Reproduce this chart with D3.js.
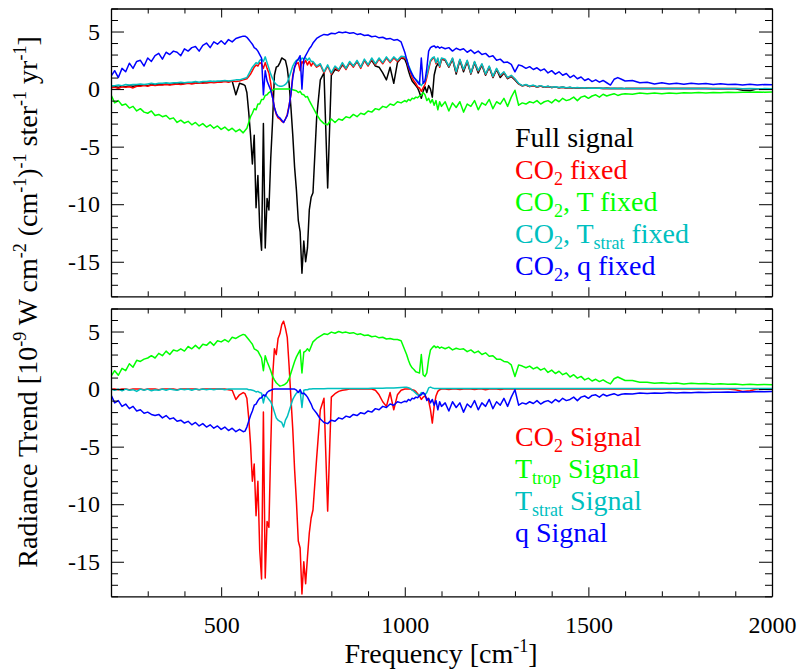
<!DOCTYPE html>
<html>
<head>
<meta charset="utf-8">
<script src="https://cdn.jsdelivr.net/npm/d3@7"></script>
<style>
  @font-face { font-family: "ChartSerif"; src: local("Liberation Serif"), local("LiberationSerif"), local("LiberationSerif-Regular"); }
  html, body { margin: 0; padding: 0; background: #fff; }
  svg { display: block; }
  #chart text, #chart tspan { font-family: "Liberation Serif" !important; }
</style>
</head>
<body>
<svg id="chart" width="805" height="671"></svg>
<script>
// ---------------- DATA ----------------
const freq = [
  200,210,220,230,240,250,260,270,280,290,300,310,320,330,340,350,360,370,380,390,400,410,420,430,440,450,460,470,480,490,500,510,520,530,540,550,560,
  565,570,575,580,585,590,595,600,605,610,615,620,625,630,635,640,645,650,655,660,665,670,675,680,685,690,695,700,705,710,715,720,725,730,735,740,745,
  750,760,770,780,790,800,810,820,830,840,850,860,870,880,890,900,910,920,930,940,950,960,970,980,990,1000,
  1005,1010,1015,1020,1025,1030,1035,1040,1045,1050,1055,1060,1065,1070,1075,1080,1085,1090,1095,1100,
  1110,1120,1130,1140,1150,1160,1170,1180,1190,1200,1210,1220,1230,1240,1250,1260,1270,1280,1290,1300,
  1310,1320,1330,1340,1350,1360,1370,1380,1390,1400,1410,1420,1430,1440,1450,1460,1470,1480,1490,1500,
  1510,1520,1530,1540,1550,1560,1570,1580,1590,1600,
  1620,1640,1660,1680,1700,1720,1740,1760,1780,1800,1820,1840,1860,1880,1900,1920,1940,1960,1980,2000
];

// Top panel
const fullSignal = [
  0.15,0.2,0.15,0.25,0.2,0.3,0.25,0.3,0.3,0.35, 0.3,0.4,0.35,0.4,0.4,0.45,0.4,0.45,0.5,0.45, 0.5,0.5,0.55,0.5,0.55,0.6,0.55,0.6,0.65,0.6, 0.65,0.7,0.65,0.7,-0.5,0.5,0.4,
  0.3,-0.3,-2.0,-4.0,-6.5,-4.0,-10.3,-7.5,-12.0,-14.0, -3.0,-13.8,-9.5,-10.5,-6.0,-2.8,1.2,1.9,2.0,2.3, 2.7,2.6,2.5,1.8,0.5,-1.6,-4.0,-6.8,-8.8,-11.4, -12.4,-16.0,-13.2,-15.0,-13.8,-10.5,-9.4,
  -9.0,-2.5,0.8,1.4,-8.6,1.2,1.7,1.6,2.1,1.8, 2.3,2.0,2.4,1.9,2.5,2.1,2.5,2.0,1.9,1.4, 0.8,1.9,0.5,2.3,2.7,2.6,
  2.2,1.6,1.1,0.7,0.5,0.3,0.1,-0.3,-0.8,-0.2, 0.2,-0.3,0.3,0.0,-0.7,1.2,1.9,2.2,2.0,2.6,
  2.5,1.9,2.6,1.3,2.5,1.5,2.4,1.3,2.3,1.4, 2.1,1.2,1.9,1.0,1.7,1.0,1.4,0.9,1.1,0.8,
  0.45,0.28,0.35,0.22,0.3,0.18,0.26,0.16,0.22,0.13, 0.17,0.11,0.15,0.1,0.13,0.08,0.11,0.08,0.1,0.07,
  0.08,0.07,0.07,0.06,0.07,0.05,0.06,0.05,0.06,0.04,
  0.04,0.04,0.04,0.04,0.04,0.04,0.04,0.04,0.04,0.04, 0.04,0.03,0.03,0.03,0.03,-0.1,-0.15,0.03,0.03,0.03
];
const co2Fixed = [
  0.1,0.15,0.05,0.2,0.15,0.2,0.1,0.25,0.25,0.3, 0.25,0.35,0.3,0.35,0.35,0.4,0.35,0.4,0.45,0.4, 0.45,0.5,0.45,0.5,0.55,0.5,0.55,0.6,0.55,0.6, 0.6,0.65,0.6,0.7,0.65,0.7,0.8,
  0.85,0.9,1.1,1.3,1.6,1.9,2.1,2.0,2.3,2.2, 1.8,2.3,1.8,1.4,0.5,-0.7,-1.6,-2.2,-2.5,-2.6, -2.8,-2.9,-2.6,-2.2,-1.4,-0.5,1.2,1.9,2.2,2.3, 1.6,2.4,2.2,2.5,2.1,2.4,2.0,
  2.3,1.9,2.1,1.4,2.0,1.3,1.9,1.6,2.2,1.7, 2.3,1.9,2.4,1.8,2.5,2.0,2.6,2.1,2.6,2.2, 2.7,2.3,2.7,2.4,2.75,2.7,
  2.5,1.9,1.5,1.0,0.7,0.5,0.2,0.1,-0.2,0.1, 0.4,1.0,1.7,2.4,2.6,2.75,2.2,2.6,1.9,2.6,
  2.55,1.95,2.65,1.45,2.55,1.65,2.45,1.35,2.35,1.55, 2.15,1.25,1.95,1.05,1.75,1.15,1.45,0.95,1.15,0.85,
  0.45,0.28,0.35,0.22,0.3,0.18,0.26,0.16,0.22,0.13, 0.17,0.11,0.15,0.1,0.13,0.08,0.11,0.08,0.1,0.07,
  0.08,0.07,0.07,0.06,0.07,0.05,0.06,0.05,0.06,0.04,
  0.04,0.04,0.04,0.04,0.04,0.04,0.04,0.04,0.04,0.04, 0.04,0.04,0.04,0.04,0.04,0.03,0.03,0.03,0.03,0.03
];
const co2TFixed = [
  -0.5,-1.2,-1.0,-1.4,-1.3,-1.65,-1.5,-1.9,-1.7,-2.0, -2.1,-1.9,-2.3,-2.2,-2.4,-2.3,-2.6,-2.5,-2.9,-2.7, -2.95,-2.8,-3.1,-2.9,-3.2,-3.0,-3.3,-3.1,-3.4,-3.2, -3.5,-3.3,-3.6,-3.4,-3.7,-3.5,-3.8,
  -3.6,-3.4,-2.9,-2.4,-2.1,-1.7,-1.8,-1.3,-1.3,-0.9, -0.9,-0.55,-0.5,-0.3,-0.2,-0.1,0,0,0,0, 0,0,0,0,0,0,-0.05,-0.1,-0.15,-0.3, -0.2,-0.45,-0.5,-0.7,-0.65,-1.0,-1.3,
  -1.6,-2.2,-2.7,-3.0,-3.1,-2.6,-2.9,-2.6,-2.7,-2.4, -2.5,-2.2,-2.4,-2.1,-2.2,-1.9,-2.0,-1.7,-1.8,-1.5, -1.6,-1.3,-1.4,-1.1,-1.2,-1.0,
  -1.1,-0.9,-1.0,-0.8,-0.85,-0.7,-0.75,-0.6,-0.55,-0.3, -0.5,-1.0,-0.8,-1.2,-0.9,-1.4,-1.0,-1.8,-1.1,-1.5,
  -1.1,-1.9,-1.2,-1.6,-1.1,-2.0,-1.3,-1.5,-1.0,-1.8, -1.2,-1.4,-0.9,-1.7,-1.1,-1.3,-0.8,-1.5,-0.7,-0.1,
  -1.4,-1.2,-1.3,-1.1,-1.2,-1.0,-1.3,-1.1,-1.0,-1.2, -0.9,-1.1,-0.8,-1.0,-0.9,-0.7,-1.0,-0.7,-0.6,-0.8,
  -0.6,-0.5,-0.7,-0.45,-0.6,-0.5,-0.4,-0.55,-0.45,-0.4,
  -0.45,-0.35,-0.4,-0.35,-0.4,-0.33,-0.38,-0.32,-0.35,-0.3, -0.33,-0.3,-0.32,-0.28,-0.3,-0.27,-0.28,-0.25,-0.27,-0.25
];
const co2TstratFixed = [
  0.3,0.3,0.35,0.3,0.4,0.35,0.4,0.4,0.45,0.4, 0.45,0.5,0.45,0.5,0.5,0.55,0.5,0.55,0.55,0.6, 0.55,0.6,0.6,0.65,0.6,0.65,0.65,0.7,0.65,0.7, 0.7,0.75,0.7,0.75,0.8,0.8,0.9,
  0.95,1.0,1.3,1.6,1.9,2.1,2.3,2.2,2.5,2.6, 2.4,2.8,2.3,1.8,1.3,0.9,0.6,0.4,0.3,0.25, 0.25,0.3,0.4,0.6,1.0,1.5,2.0,2.3,2.5,2.6, 2.4,2.7,2.6,2.7,2.5,2.7,2.4,
  2.4,2.0,2.2,1.5,2.1,1.4,2.0,1.7,2.3,1.8, 2.4,2.0,2.5,1.9,2.6,2.1,2.7,2.2,2.7,2.3, 2.8,2.4,2.8,2.5,2.85,2.8,
  2.6,2.1,1.7,1.3,1.0,0.85,0.7,0.5,0.3,0.5, 0.7,1.2,1.9,2.5,2.7,2.8,2.3,2.7,2.0,2.7,
  2.6,2.0,2.7,1.5,2.6,1.7,2.5,1.4,2.4,1.6, 2.2,1.3,2.0,1.1,1.8,1.2,1.5,1.0,1.2,0.9,
  0.5,0.3,0.4,0.25,0.35,0.2,0.3,0.18,0.25,0.15, 0.2,0.13,0.18,0.12,0.15,0.1,0.13,0.1,0.12,0.08,
  0.1,0.08,0.09,0.07,0.08,0.06,0.08,0.06,0.07,0.05,
  0.06,0.05,0.06,0.05,0.05,0.05,0.04,0.05,0.04,0.04, 0.05,0.04,0.04,0.04,0.04,0.03,0.04,0.03,0.04,0.03
];
const co2QFixed = [
  1.1,1.6,1.0,1.8,1.5,2.25,1.8,2.4,2.5,2.0, 2.7,2.4,2.9,3.1,2.6,3.2,3.0,3.3,3.2,2.9, 3.5,3.3,3.6,3.7,3.3,3.8,4.0,3.6,4.1,3.9, 4.2,3.9,4.3,4.1,4.4,4.5,4.6,
  4.6,4.5,4.3,4.1,3.9,3.6,3.5,3.3,3.0,2.7, -0.5,1.6,0.7,0.3,-0.1,-0.75,-1.6,-2.1,-2.4,-2.5, -2.7,-2.9,-2.6,-2.3,-1.5,-0.4,1.0,1.9,2.4,2.6, 2.9,0.0,2.6,2.9,3.2,3.5,3.7,
  4.0,4.4,4.6,4.75,4.7,4.85,4.8,4.95,4.9,4.95, 4.85,4.9,4.75,4.8,4.65,4.7,4.55,4.6,4.45,4.5, 4.35,4.4,4.25,4.3,4.1,3.2,
  2.6,2.0,1.6,1.3,1.0,0.8,0.6,0.4,2.7,0.5, 0.7,1.8,3.3,3.6,3.7,3.75,3.6,3.7,3.55,3.65,
  3.5,3.6,3.3,3.55,3.4,3.5,3.2,3.4,3.1,3.3, 3.0,3.1,2.8,2.9,2.5,2.6,2.3,2.35,2.15,1.5,
  2.1,2.0,1.8,1.95,1.7,1.85,1.6,1.75,1.4,1.6, 1.3,1.5,1.2,1.35,1.0,1.2,0.9,1.05,0.75,0.9,
  0.65,0.8,0.6,0.75,0.55,0.35,0.85,1.0,0.85,0.7,
  0.75,0.55,0.6,0.45,0.55,0.45,0.5,0.42,0.5,0.45, 0.48,0.4,0.47,0.4,0.42,0.35,0.42,0.36,0.4,0.38
];

// Bottom panel
const co2Signal = [
  0,0,-0.05,0,0,-0.05,0,0,0,-0.05, 0,0,0,-0.05,0,0,0,0,-0.05,0, 0,0,0,0,-0.05,0,0,0,0,0, 0,0,-0.05,-0.1,-0.9,-0.5,-0.3,
  -0.4,-0.8,-2.5,-4.8,-8.0,-6.5,-11.0,-8.0,-14.0,-16.5, -2.0,-16.4,-11.5,-12.0,-5.0,1.0,3.5,3.0,4.4,4.8, 5.6,5.9,5.3,4.5,2.0,-0.8,-3.5,-7.0,-9.8,-13.2, -13.8,-17.8,-15.0,-16.9,-14.6,-12.5,-11.2,
  -10.5,-6.0,-1.8,-0.8,-10.6,-0.7,-0.4,-0.2,-0.1,-0.05, 0,0,0,0,0,0,0,-0.1,-0.5,-1.1, -1.5,-0.3,-1.8,-0.5,-0.1,0,
  0,0,0,-0.05,-0.1,-0.2,-0.4,-0.6,-0.9,-0.7, -0.6,-0.8,-1.0,-1.8,-2.95,-1.5,-0.6,-0.2,-0.05,0,
  0,-0.03,0,0,-0.03,0,0,0,-0.03,0, 0,-0.05,0,0,0,-0.03,0,0,0,0,
  0,0,0,0,0,0,0,0,0,0, 0,0,0,0,0,0,0,0,0,0,
  0,0,0,0,0,0,0,0,0,0,
  0,0,0,0,0,0,0,0,0,0, 0,0,0,0,-0.05,-0.2,-0.15,0,0,0
];
const ttropSignal = [
  1.1,1.6,1.2,1.8,1.6,2.2,1.9,2.5,2.4,2.6, 2.7,2.9,2.7,3.1,2.9,3.3,3.0,3.4,3.3,3.5, 3.3,3.7,3.5,3.8,3.5,3.9,3.8,4.1,3.8,4.2, 4.1,4.3,4.1,4.5,4.4,4.6,4.75,
  4.7,4.5,4.3,4.1,3.9,3.5,3.4,3.3,3.0,2.7, 1.6,2.9,2.4,2.0,1.6,1.1,0.8,0.55,0.4,0.26, 0.3,0.35,0.45,0.6,0.9,1.4,1.9,2.4,2.8,3.1, 3.4,1.4,3.2,3.3,3.5,3.3,3.7,
  4.1,4.4,4.6,4.8,4.75,4.95,4.85,5.0,4.9,4.95, 4.85,4.9,4.75,4.8,4.65,4.7,4.55,4.6,4.45,4.5, 4.35,4.4,4.3,4.3,4.2,3.4,
  3.0,2.5,2.1,1.85,1.7,1.5,1.45,1.4,3.0,1.25, 1.1,1.4,2.6,3.4,3.6,3.75,3.6,3.7,3.55,3.65,
  3.5,3.65,3.4,3.55,3.45,3.5,3.25,3.4,3.15,3.3, 3.0,3.15,2.85,2.9,2.6,2.6,2.4,2.35,2.1,1.1,
  2.1,2.0,1.85,2.0,1.75,1.9,1.65,1.8,1.45,1.65, 1.35,1.55,1.25,1.4,1.05,1.25,0.95,1.1,0.8,0.95,
  0.7,0.85,0.65,0.8,0.6,0.45,0.9,1.05,0.9,0.75,
  0.75,0.6,0.6,0.5,0.55,0.48,0.52,0.45,0.5,0.46, 0.48,0.42,0.47,0.42,0.44,0.38,0.43,0.38,0.4,0.37
];
const tstratSignal = [
  0,-0.1,0,-0.15,0,-0.1,-0.05,-0.2,0,-0.1, 0,-0.15,-0.05,-0.1,0,-0.1,0,-0.05,-0.1,0, -0.05,0,-0.1,0,-0.05,0,-0.05,0,-0.05,0, 0,-0.05,0,0,0,0,0,
  0,0,-0.05,-0.05,-0.1,-0.15,-0.25,-0.2,-0.3,-0.35, -1.2,-0.5,-0.7,-0.9,-1.1,-1.5,-2.0,-2.5,-2.7,-2.8, -2.9,-3.3,-2.7,-2.4,-1.9,-1.4,-0.9,-0.6,-0.35,-0.25, -0.15,-1.6,-0.1,-0.05,-0.05,0,0,
  0.02,0.03,0.03,0.03,0.04,0.04,0.04,0.04,0.05,0.05, 0.05,0.05,0.05,0.06,0.06,0.06,0.07,0.07,0.08,0.08, 0.09,0.1,0.1,0.12,0.14,0.15,
  0.15,0.12,0.05,-0.1,-0.2,-0.35,-0.5,-0.55,-0.3,-0.4, -0.5,-0.3,0.1,0.17,0.1,0.06,0.06,0.06,0.06,0.06,
  0.06,0.06,0.06,0.06,0.06,0.06,0.06,0.06,0.06,0.06, 0.06,0.06,0.06,0.06,0.06,0.06,0.06,0.06,0.06,0.06,
  0.06,0.06,0.06,0.06,0.06,0.06,0.06,0.06,0.06,0.06, 0.06,0.06,0.06,0.06,0.06,0.06,0.06,0.06,0.06,0.06,
  0.06,0.06,0.06,0.06,0.06,0.06,0.06,0.06,0.06,0.06,
  0.06,0.06,0.06,0.06,0.06,0.06,0.06,0.06,0.06,0.06, 0.06,0.06,0.06,0.06,0.06,0.06,0.06,0.06,0.06,0.06
];
const qSignal = [
  -0.5,-1.2,-1.0,-1.5,-1.3,-1.7,-1.5,-1.9,-1.8,-2.1, -2.0,-2.2,-2.3,-2.2,-2.5,-2.3,-2.6,-2.5,-2.8,-2.7, -2.95,-2.8,-3.1,-2.9,-3.2,-3.0,-3.3,-3.1,-3.4,-3.2, -3.5,-3.3,-3.6,-3.4,-3.7,-3.5,-3.7,
  -3.65,-3.3,-2.8,-2.3,-1.9,-1.4,-1.3,-1.0,-0.8,-0.75, -0.5,-0.6,-0.3,-0.17,-0.1,-0.02,0,0,0,0, 0,0,0,0,0,0,0,0,-0.1,-0.3, -0.05,-0.4,-0.35,-0.5,-0.7,-1.0,-1.3,
  -1.7,-2.1,-2.6,-2.9,-3.0,-2.7,-2.8,-2.5,-2.6,-2.35, -2.45,-2.2,-2.3,-2.05,-2.15,-1.9,-2.0,-1.7,-1.8,-1.5, -1.6,-1.3,-1.4,-1.1,-1.2,-1.05,
  -1.1,-0.9,-1.0,-0.8,-0.85,-0.7,-0.75,-0.55,-0.5,-0.3, -0.45,-1.0,-0.8,-1.2,-0.9,-1.4,-1.0,-1.8,-1.1,-1.5,
  -1.2,-1.9,-1.1,-1.6,-1.2,-2.0,-1.3,-1.6,-1.0,-1.8, -1.2,-1.5,-0.9,-1.7,-1.1,-1.4,-0.8,-1.5,-0.7,-0.06,
  -1.4,-1.2,-1.3,-1.1,-1.25,-1.0,-1.3,-1.1,-1.0,-1.2, -0.9,-1.1,-0.8,-1.0,-0.9,-0.7,-1.0,-0.7,-0.6,-0.8,
  -0.55,-0.5,-0.7,-0.45,-0.6,-0.5,-0.4,-0.55,-0.45,-0.4,
  -0.42,-0.35,-0.38,-0.33,-0.37,-0.3,-0.35,-0.3,-0.32,-0.28, -0.3,-0.27,-0.28,-0.25,-0.27,-0.23,-0.25,-0.22,-0.23,-0.2
];

// Ticks
const xTickValues = [500, 1000, 1500, 2000];
const xMinorTicks = [300,400,600,700,800,900,1100,1200,1300,1400,1600,1700,1800,1900];
const yTickValues = [-15, -10, -5, 0, 5];
const yMinorTicks = [-18,-17,-16,-14,-13,-12,-11,-9,-8,-7,-6,-4,-3,-2,-1,1,2,3,4,6,7];

// Legends (text parts: [text, isSubscript])
const topLegend = [
  { color: "#000000", parts: [["Full signal", false]] },
  { color: "#ff0000", parts: [["CO", false], ["2", true], [" fixed", false]] },
  { color: "#00ff00", parts: [["CO", false], ["2", true], [", T fixed", false]] },
  { color: "#00bfbf", parts: [["CO", false], ["2", true], [", T", false], ["strat", true], [" fixed", false]] },
  { color: "#0000ff", parts: [["CO", false], ["2", true], [", q fixed", false]] }
];
const bottomLegend = [
  { color: "#ff0000", parts: [["CO", false], ["2", true], [" Signal", false]] },
  { color: "#00ff00", parts: [["T", false], ["trop", true], [" Signal", false]] },
  { color: "#00bfbf", parts: [["T", false], ["strat", true], [" Signal", false]] },
  { color: "#0000ff", parts: [["q Signal", false]] }
];

// ---------------- DRAWING ----------------
const svg = d3.select("#chart");

function serif(sel, size) {
  sel.attr("font-family", "Liberation Serif").style("font-family", '"Liberation Serif"');
  if (size) sel.attr("font-size", size);
  return sel;
}

const L = 111, R = 772;
const x = d3.scaleLinear().domain([200, 2000]).range([L, R]);
const panels = [
  { top: 8.5, bottom: 296.3, series: [
      [fullSignal, "#000000"], [co2Fixed, "#ff0000"], [co2TFixed, "#00ff00"],
      [co2TstratFixed, "#00bfbf"], [co2QFixed, "#0000ff"]], legend: topLegend, legendY: 147, labels: false },
  { top: 308.5, bottom: 596.3, series: [
      [co2Signal, "#ff0000"], [ttropSignal, "#00ff00"], [tstratSignal, "#00bfbf"], [qSignal, "#0000ff"]],
    legend: bottomLegend, legendY: 446, labels: true }
];

panels.forEach((p, pi) => {
  const y = d3.scaleLinear().domain([-18, 7]).range([p.bottom, p.top]);
  const clipId = "clip" + pi;
  svg.append("defs").append("clipPath").attr("id", clipId).append("rect")
    .attr("x", L).attr("y", p.top).attr("width", R - L).attr("height", p.bottom - p.top);

  const line = d3.line().x(d => x(d[0])).y(d => y(d[1]));
  const gl = svg.append("g").attr("clip-path", `url(#${clipId})`);
  p.series.forEach(([vals, color]) => {
    gl.append("path")
      .datum(freq.map((f, i) => [f, vals[i]]))
      .attr("fill", "none").attr("stroke", color).attr("stroke-width", 1.5)
      .attr("stroke-linejoin", "round").attr("d", line);
  });

  const styleAxis = g => {
    serif(g, 24);
    g.selectAll("line").attr("stroke", "#000").attr("stroke-width", 1);
    g.select(".domain").attr("stroke", "#000").attr("stroke-width", 1.3);
    serif(g.selectAll("text"), 24).attr("fill", "#000");
  };
  const noDomain = g => g.select(".domain").remove();

  const gb = svg.append("g").attr("transform", `translate(0,${p.bottom})`)
    .call(d3.axisBottom(x).tickValues(xTickValues).tickSizeInner(-9).tickSizeOuter(0)
      .tickFormat(p.labels ? (d => String(d)) : ""));
  styleAxis(gb);
  gb.selectAll("text").attr("y", 20).attr("dy", "0.71em");
  svg.append("g").attr("transform", `translate(0,${p.bottom})`)
    .call(d3.axisBottom(x).tickValues(xMinorTicks).tickSizeInner(-5).tickSizeOuter(0).tickFormat(""))
    .call(noDomain).call(styleAxis);
  svg.append("g").attr("transform", `translate(0,${p.top})`)
    .call(d3.axisTop(x).tickValues(xTickValues).tickSizeInner(-9).tickSizeOuter(0).tickFormat(""))
    .call(styleAxis);
  svg.append("g").attr("transform", `translate(0,${p.top})`)
    .call(d3.axisTop(x).tickValues(xMinorTicks).tickSizeInner(-5).tickSizeOuter(0).tickFormat(""))
    .call(noDomain).call(styleAxis);
  svg.append("g").attr("transform", `translate(${L},0)`)
    .call(d3.axisLeft(y).tickValues(yTickValues).tickSizeInner(-13).tickSizeOuter(0).tickPadding(11)
      .tickFormat(d => String(d)))
    .call(styleAxis);
  svg.append("g").attr("transform", `translate(${L},0)`)
    .call(d3.axisLeft(y).tickValues(yMinorTicks).tickSizeInner(-7).tickSizeOuter(0).tickFormat(""))
    .call(noDomain).call(styleAxis);
  svg.append("g").attr("transform", `translate(${R},0)`)
    .call(d3.axisRight(y).tickValues(yTickValues).tickSizeInner(-13).tickSizeOuter(0).tickFormat(""))
    .call(styleAxis);
  svg.append("g").attr("transform", `translate(${R},0)`)
    .call(d3.axisRight(y).tickValues(yMinorTicks).tickSizeInner(-7).tickSizeOuter(0).tickFormat(""))
    .call(noDomain).call(styleAxis);

  p.legend.forEach((item, i) => {
    const t = serif(svg.append("text"), 28).attr("x", 515).attr("y", p.legendY + i * 32)
      .attr("fill", item.color);
    let sub = false;
    item.parts.forEach(([txt, isSub]) => {
      const ts = serif(t.append("tspan"), isSub ? 18 : 28).text(txt);
      if (isSub) { if (!sub) { ts.attr("dy", 6); sub = true; } }
      else if (sub) { ts.attr("dy", -6); sub = false; }
    });
  });
});

const xt = serif(svg.append("text"), 28).attr("x", 441).attr("y", 663).attr("text-anchor", "middle")
  .attr("fill", "#000");
serif(xt.append("tspan"), 28).text("Frequency [cm");
serif(xt.append("tspan"), 18).text("-1").attr("dy", -11);
serif(xt.append("tspan"), 28).text("]").attr("dy", 11);

const yt = serif(svg.append("text"), 28).attr("transform", "translate(37,302) rotate(-90)")
  .attr("text-anchor", "middle").attr("fill", "#000");
const yParts = [["Radiance Trend [10", false], ["-9", true], [" W cm", false], ["-2", true],
  [" (cm", false], ["-1", true], [")", false], ["-1", true], [" ster", false], ["-1", true],
  [" yr", false], ["-1", true], ["]", false]];
let raised = false;
yParts.forEach(([txt, sup]) => {
  const ts = serif(yt.append("tspan"), sup ? 18 : 28).text(txt);
  if (sup) { if (!raised) { ts.attr("dy", -11); raised = true; } }
  else if (raised) { ts.attr("dy", 11); raised = false; }
});
</script>
</body>
</html>
